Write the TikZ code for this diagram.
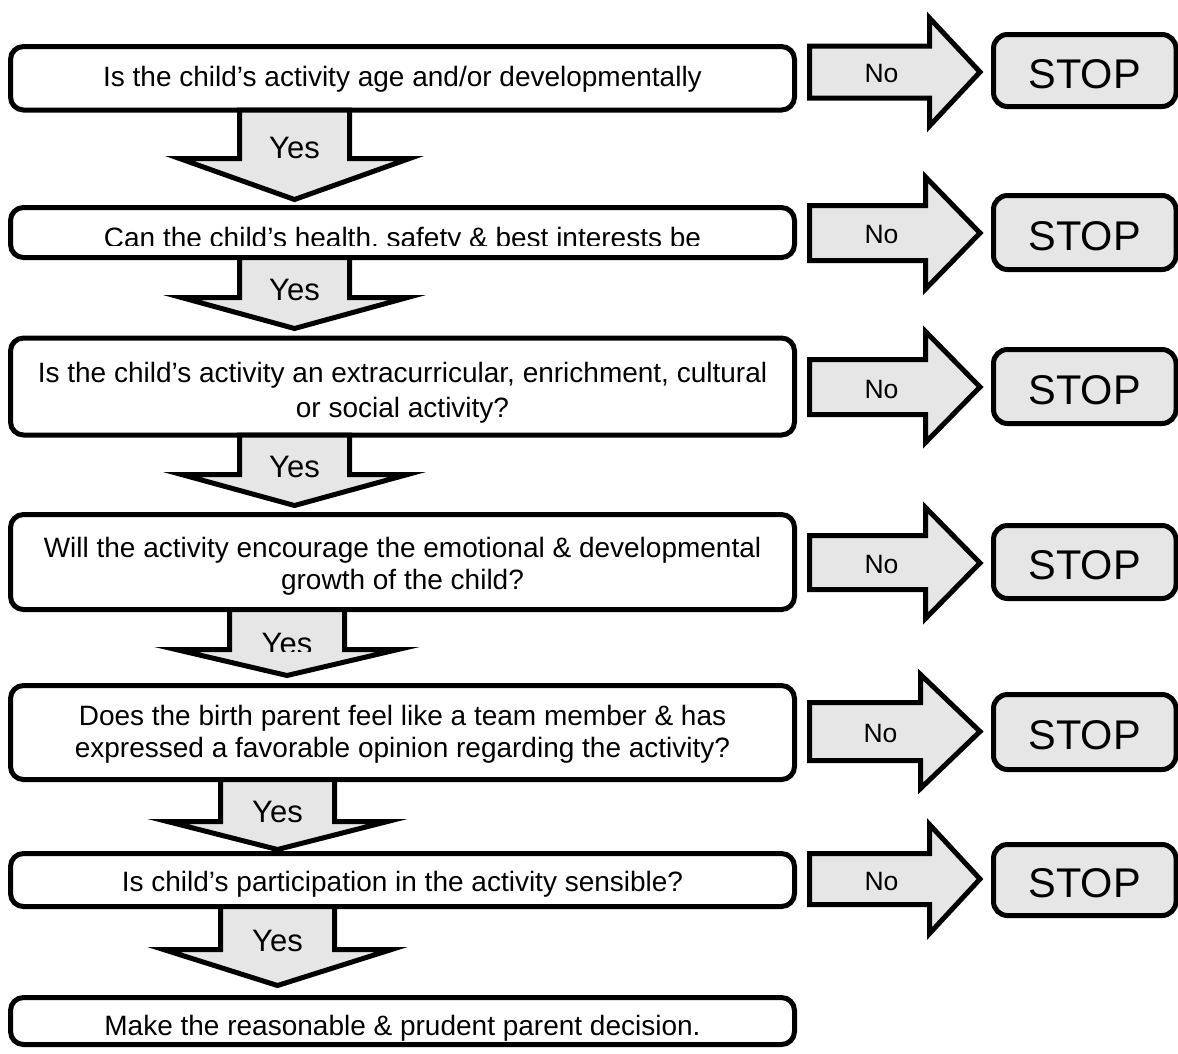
\documentclass[tikz,border=0pt]{standalone}
\usepackage{fontspec}
\setmainfont{Liberation Sans}
\definecolor{boxgray}{RGB}{230,230,230}

\begin{document}
\begin{tikzpicture}[x=1pt, y=-1pt,
    question/.style={draw, line width=5pt, rounded corners=13pt, fill=white,
        minimum width=784pt, inner sep=0pt},
    qtext/.style={inner sep=0pt, align=center, font=\fontsize{28}{32}\selectfont},
    stopbox/.style={draw, line width=5pt, rounded corners=14pt, fill=boxgray,
        minimum width=182.5pt, inner sep=0pt, text height=35.5pt, text depth=0pt,
        font=\fontsize{41.5}{48}\selectfont},
    blockarrow/.style={draw, line width=5pt, fill=boxgray},
    yeslabel/.style={anchor=base, inner sep=0pt, font=\fontsize{31}{36}\selectfont},
    nolabel/.style={anchor=base, inner sep=0pt, font=\fontsize{26.5}{30}\selectfont}]
    \useasboundingbox (0, 0) rectangle (1178, 1053);
    % row 1
    \node[question, minimum height=63.5pt] (q1) at (402.5, 78.25) {};
    \node[qtext, anchor=base] (t1) at (402.5, 86) {Is the child’s activity age and/or developmentally};
    \filldraw[blockarrow] (809.5, 46) -- (929.5, 46) -- (929.5, 18) -- (980, 72) -- (929.5, 126) -- (929.5, 98) -- (809.5, 98) -- cycle;
    \node[nolabel] (n1) at (881.5, 82.7) {No};
    \node[stopbox, minimum height=72pt] (s1) at (1084.75, 70.5) {STOP};
    % row 2
    \node[question, minimum height=50pt] (q2) at (402.5, 232.5) {};
    \begin{scope}
        \clip (12, 205) rectangle (793, 245);
        \node[qtext, anchor=base] (t2) at (402.5, 247.8) {Can the child’s health, safety \& best interests be};
    \end{scope}
    \filldraw[blockarrow] (809.5, 205.5) -- (925.5, 205.5) -- (925.5, 177) -- (980, 233) -- (925.5, 289) -- (925.5, 260.5) -- (809.5, 260.5) -- cycle;
    \node[nolabel] (n2) at (881.5, 243.3) {No};
    \node[stopbox, minimum height=74pt] (s2) at (1084.75, 232.5) {STOP};
    % row 3
    \node[question, minimum height=97pt] (q3) at (402.5, 386.5) {};
    \node[qtext, anchor=north, font=\fontsize{28}{35.7}\selectfont] (t3) at (402.5, 361.7) {Is the child’s activity an extracurricular, enrichment, cultural\\or social activity?};
    \filldraw[blockarrow] (809.5, 359.5) -- (925.5, 359.5) -- (925.5, 331.5) -- (980, 387) -- (925.5, 442.5) -- (925.5, 414.5) -- (809.5, 414.5) -- cycle;
    \node[nolabel] (n3) at (881.5, 398.3) {No};
    \node[stopbox, minimum height=74pt] (s3) at (1084.75, 386.5) {STOP};
    % row 4
    \node[question, minimum height=95pt] (q4) at (402.5, 562) {};
    \node[qtext, anchor=north] (t4) at (402.5, 537) {Will the activity encourage the emotional \& developmental\\growth of the child?};
    \filldraw[blockarrow] (809.5, 535.5) -- (925.5, 535.5) -- (925.5, 507.5) -- (980, 563) -- (925.5, 618.5) -- (925.5, 589.5) -- (809.5, 589.5) -- cycle;
    \node[nolabel] (n4) at (881.5, 573.3) {No};
    \node[stopbox, minimum height=73pt] (s4) at (1084.75, 562) {STOP};
    % row 5
    \node[question, minimum height=94pt] (q5) at (402.5, 732.5) {};
    \node[qtext, anchor=north] (t5) at (402.5, 705) {Does the birth parent feel like a team member \& has\\expressed a favorable opinion regarding the activity?};
    \filldraw[blockarrow] (809.5, 702.5) -- (920.5, 702.5) -- (920.5, 674.5) -- (980, 731.5) -- (920.5, 788.5) -- (920.5, 760.5) -- (809.5, 760.5) -- cycle;
    \node[nolabel] (n5) at (880.5, 742.7) {No};
    \node[stopbox, minimum height=75pt] (s5) at (1084.75, 732) {STOP};
    % row 6
    \node[question, minimum height=53pt] (q6) at (402.5, 880) {};
    \node[qtext, anchor=base] (t6) at (402.5, 891) {Is child’s participation in the activity sensible?};
    \filldraw[blockarrow] (809.5, 853.5) -- (929.5, 853.5) -- (929.5, 824.5) -- (980, 879) -- (929.5, 933.5) -- (929.5, 904.5) -- (809.5, 904.5) -- cycle;
    \node[nolabel] (n6) at (881.5, 890.7) {No};
    \node[stopbox, minimum height=71pt] (s6) at (1084.75, 880) {STOP};
    % decision
    \node[question, minimum height=47pt] (q7) at (402.5, 1021) {};
    \node[qtext, anchor=base] (t7) at (402.5, 1035) {Make the reasonable \& prudent parent decision.};
    % yes arrows
    \filldraw[blockarrow] (239.5, 110) -- (239.5, 158.5) -- (179.5, 158.5) -- (294.5, 199.5) -- (409.5, 158.5) -- (349.5, 158.5) -- (349.5, 110) -- cycle;
    \node[yeslabel] (y1) at (294.5, 158) {Yes};
    \filldraw[blockarrow] (239.5, 257.5) -- (239.5, 297.5) -- (181.5, 297.5) -- (294.5, 328.5) -- (407.5, 297.5) -- (349.5, 297.5) -- (349.5, 257.5) -- cycle;
    \node[yeslabel] (y2) at (294.5, 300.7) {Yes};
    \filldraw[blockarrow] (239.5, 435) -- (239.5, 474.5) -- (181.5, 474.5) -- (294.5, 505.5) -- (407.5, 474.5) -- (349.5, 474.5) -- (349.5, 435) -- cycle;
    \node[yeslabel] (y3) at (294.5, 477.4) {Yes};
    \filldraw[blockarrow] (229.5, 609.5) -- (229.5, 649.5) -- (176, 649.5) -- (287, 675.5) -- (398, 649.5) -- (344.5, 649.5) -- (344.5, 609.5) -- cycle;
    \begin{scope}
        \clip (150, 612) rectangle (420, 651.7);
        \node[yeslabel] (y4) at (287, 654) {Yes};
    \end{scope}
    \filldraw[blockarrow] (220.5, 779.5) -- (220.5, 821.5) -- (167.5, 821.5) -- (277.5, 849.5) -- (387.5, 821.5) -- (334.5, 821.5) -- (334.5, 779.5) -- cycle;
    \node[yeslabel] (y5) at (277.5, 822.7) {Yes};
    \filldraw[blockarrow] (220.5, 906.5) -- (220.5, 949.5) -- (163.5, 949.5) -- (277.5, 985.5) -- (391.5, 949.5) -- (334.5, 949.5) -- (334.5, 906.5) -- cycle;
    \node[yeslabel] (y6) at (277.5, 951.3) {Yes};
\end{tikzpicture}
\end{document}
